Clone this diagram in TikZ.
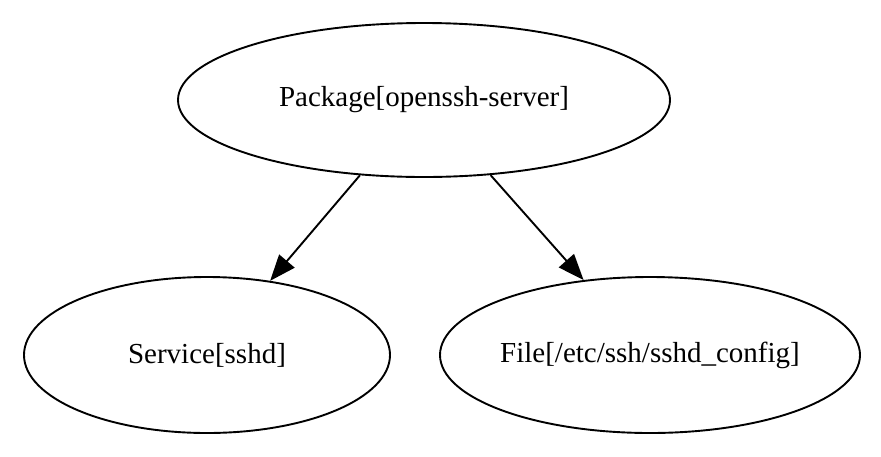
\documentclass[tikz,border=0pt]{standalone}
\usepackage{fontspec}
\setmainfont{Liberation Serif}
\usetikzlibrary{shapes.geometric,arrows.meta}
\begin{document}
\begin{tikzpicture}[x=1pt,y=-1pt,
  el/.style={draw,ellipse,line width=1.9pt,inner ysep=0pt,inner xsep=-20pt,font=\fontsize{29}{34}\selectfont},
  edge/.style={line width=1.9pt,-{Triangle[length=26pt,width=20pt]}}]
\useasboundingbox (0,0) rectangle (881,456);
\node[el,minimum width=492pt,minimum height=154pt] (p) at (424,100) {Package[openssh-server]};
\node[el,minimum width=366pt,minimum height=156pt] (s) at (207,355) {Service[sshd]};
\node[el,minimum width=420pt,minimum height=156pt] (f) at (650,355) {File[/etc/ssh/sshd\_config]};
\draw[edge] (p) -- (s);
\draw[edge] (p) -- (f);
\end{tikzpicture}
\end{document}
